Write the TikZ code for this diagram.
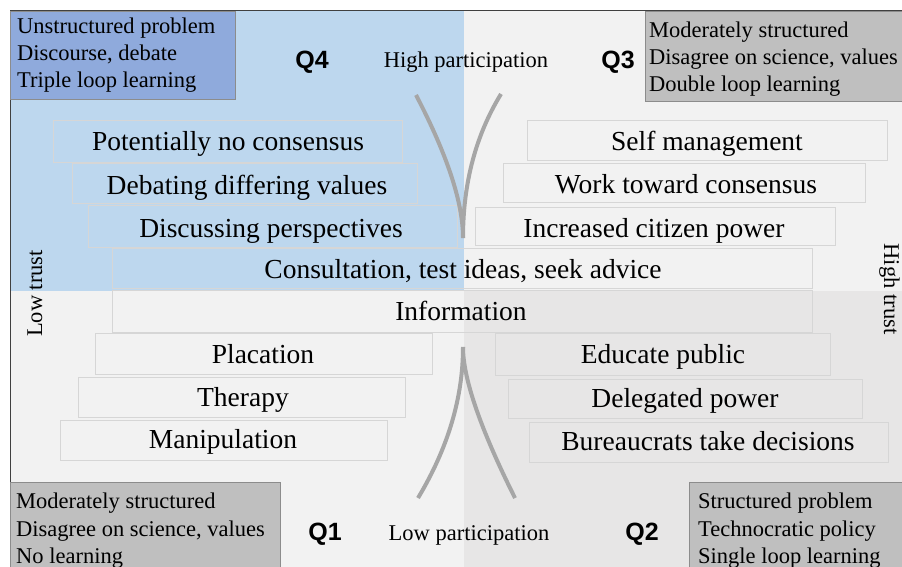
\documentclass[tikz,border=0pt]{standalone}
\usepackage{fontspec}
\setmainfont{Liberation Serif}
\newfontfamily\qfont{Liberation Sans}

\definecolor{quadblue}{HTML}{BDD7EE}
\definecolor{boxblue}{HTML}{8FAADC}
\definecolor{quadgray}{HTML}{F2F2F2}
\definecolor{quaddark}{HTML}{E7E6E6}
\definecolor{boxgray}{HTML}{BFBFBF}
\definecolor{barline}{HTML}{D6D6D6}
\definecolor{arcgray}{HTML}{A6A6A6}
\definecolor{framecol}{HTML}{404040}
\definecolor{boxline}{HTML}{8C8C8C}

\begin{document}
\begin{tikzpicture}[x=1pt,y=-1pt,
  bar/.style={draw=barline, line width=0.8pt},
  bartext/.style={anchor=base, inner sep=0pt, font=\fontsize{27.5}{33}\selectfont},
  boxtext/.style={anchor=base west, inner sep=0pt, font=\fontsize{22.5}{27}\selectfont},
  axistext/.style={anchor=base, inner sep=0pt, font=\fontsize{22.5}{27}\selectfont},
  qlabel/.style={anchor=base, inner sep=0pt, font=\qfont\bfseries\fontsize{25}{30}\selectfont},
  cornerbox/.style={draw=boxline, line width=0.8pt},
  arcline/.style={draw=arcgray, line width=4pt}
]
\useasboundingbox (0,0) rectangle (902,567);
\clip (0,0) rectangle (902,567);

% quadrant backgrounds
\fill[quadblue] (10,11) rectangle (464,291);
\fill[quadgray] (464,11) rectangle (902,291);
\fill[quadgray] (10,291) rectangle (464,567);
\fill[quaddark] (464,291) rectangle (902,567);

% outer frame
\draw[framecol, line width=1pt] (10,567) -- (10,11) -- (902,11);

% corner boxes
\draw[cornerbox, fill=boxblue] (10,11) rectangle (235,99);
\draw[cornerbox, fill=boxgray] (645,11) rectangle (903,101);
\draw[cornerbox, fill=boxgray] (10,482) rectangle (280,568);
\draw[cornerbox, fill=boxgray] (689,482) rectangle (903,568);

\node[boxtext] (q4a) at (17,34) {Unstructured problem};
\node[boxtext] (q4b) at (17,61) {Discourse, debate};
\node[boxtext] (q4c) at (17,88) {Triple loop learning};

\node[boxtext] (q3a) at (649,38) {Moderately structured};
\node[boxtext] (q3b) at (649,65) {Disagree on science, values};
\node[boxtext] (q3c) at (649,92) {Double loop learning};

\node[boxtext] (q1a) at (16,508) {Moderately structured};
\node[boxtext] (q1b) at (16,536) {Disagree on science, values};
\node[boxtext] (q1c) at (16,563) {No learning};

\node[boxtext] (q2a) at (698,508) {Structured problem};
\node[boxtext] (q2b) at (698,536) {Technocratic policy};
\node[boxtext] (q2c) at (698,563) {Single loop learning};

% quadrant labels and axis labels
\node[qlabel] (lq4) at (312,69) {Q4};
\node[qlabel] (lq3) at (618,69) {Q3};
\node[qlabel] (lq1) at (325,540) {Q1};
\node[qlabel] (lq2) at (642,540) {Q2};
\node[axistext] (highp) at (466,68) {High participation};
\node[axistext] (lowp) at (469,540) {Low participation};
\node[axistext, rotate=90] (lowt) at (42,293.5) {Low trust};
\node[axistext, rotate=-90] (hight) at (884,289) {High trust};

% ladder bars
\draw[bar] (53,120) rectangle (402,162);
\draw[bar] (72,163) rectangle (417,203);
\draw[bar] (88,205) rectangle (457,247);
\draw[bar] (112,248) rectangle (812,288);
\draw[bar] (112,290) rectangle (812,332);
\draw[bar] (527,120) rectangle (887,160);
\draw[bar] (503,163) rectangle (865,202);
\draw[bar] (475,207) rectangle (835,245);
\draw[bar] (95,333) rectangle (432,374);
\draw[bar] (78,377) rectangle (405,417);
\draw[bar] (60,420) rectangle (387,460);
\draw[bar] (495,333) rectangle (830,375);
\draw[bar] (508,379) rectangle (862,418);
\draw[bar] (529,422) rectangle (888,462);

% arcs meeting at the two apexes
\coordinate (topapex) at (463,238);
\coordinate (topl) at (416,95);
\coordinate (topr) at (501,94);
\coordinate (botapex) at (463,347);
\coordinate (botl) at (418,498);
\coordinate (botr) at (515,498);
\draw[arcline] (topl) .. controls (447.3,155) and (463,202.7) .. (topapex);
\draw[arcline] (topr) .. controls (475.7,135.3) and (463,183.3) .. (topapex);
\draw[arcline] (botapex) .. controls (463,397.7) and (448,448) .. (botl);
\draw[arcline] (botapex) .. controls (463,378.3) and (480.3,428.7) .. (botr);

% bar texts
\node[bartext] (t1) at (228,150) {Potentially no consensus};
\node[bartext] (t2) at (247,194) {Debating differing values};
\node[bartext] (t3) at (271,237) {Discussing perspectives};
\node[bartext] (t4) at (463,278) {Consultation, test ideas, seek advice};
\node[bartext] (t5) at (461,320) {Information};
\node[bartext] (t6) at (707,150) {Self management};
\node[bartext] (t7) at (686,193) {Work toward consensus};
\node[bartext] (t8) at (654,237) {Increased citizen power};
\node[bartext] (t9) at (263,363) {Placation};
\node[bartext] (t10) at (243,406) {Therapy};
\node[bartext] (t11) at (223,448) {Manipulation};
\node[bartext] (t12) at (663,363) {Educate public};
\node[bartext] (t13) at (685,407) {Delegated power};
\node[bartext] (t14) at (708,450) {Bureaucrats take decisions};
\end{tikzpicture}
\end{document}
